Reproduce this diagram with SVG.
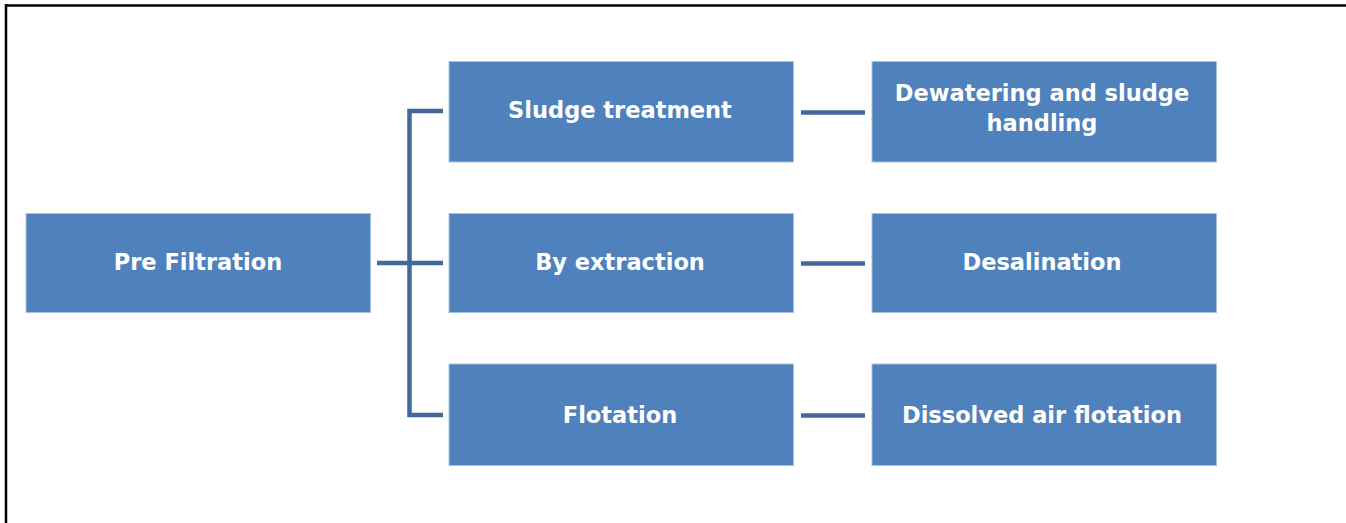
<svg xmlns="http://www.w3.org/2000/svg" width="1346" height="523" viewBox="0 0 1346 523">
<style>
.box{fill:#4F81BD;stroke:#A9C1E0;stroke-width:1}
.lbl{font-family:"DejaVu Sans",sans-serif;font-weight:bold;font-size:22.5px;fill:#FFFFFF;text-anchor:middle}
.con{fill:none;stroke:#41699B;stroke-width:4.5;stroke-linejoin:miter;stroke-linecap:butt}
</style>
<rect x="0" y="0" width="1346" height="523" fill="#FFFFFF"/>
<g id="frame">
<line x1="6" y1="4" x2="6" y2="523" stroke="#000" stroke-width="2.5"/>
<line x1="5" y1="5.5" x2="1346" y2="5.5" stroke="#000" stroke-width="2.5"/>
</g>
<g id="connectors">
<path class="con" d="M443,111 H409.5 V415 H443"/>
<path class="con" d="M377,263 H443"/>
<path class="con" d="M801,112.5 H865"/>
<path class="con" d="M801,263.5 H865"/>
<path class="con" d="M801,415.5 H865"/>
</g>
<g id="pre-filtration">
<rect class="box" x="26" y="213.5" width="344.5" height="99"/>
<text class="lbl" x="198" y="270">Pre Filtration</text>
</g>
<g id="sludge-treatment">
<rect class="box" x="449" y="61.5" width="344.5" height="100.5"/>
<text class="lbl" x="620" y="118">Sludge treatment</text>
</g>
<g id="by-extraction">
<rect class="box" x="449" y="213.5" width="344.5" height="99"/>
<text class="lbl" x="620" y="270">By extraction</text>
</g>
<g id="flotation">
<rect class="box" x="449" y="364" width="344.5" height="101.5"/>
<text class="lbl" x="620" y="422.5">Flotation</text>
</g>
<g id="dewatering">
<rect class="box" x="872" y="61.5" width="344.5" height="100.5"/>
<text class="lbl" x="1042" y="100.5">Dewatering and sludge</text>
<text class="lbl" x="1042" y="131">handling</text>
</g>
<g id="desalination">
<rect class="box" x="872" y="213.5" width="344.5" height="99"/>
<text class="lbl" x="1042" y="270">Desalination</text>
</g>
<g id="dissolved-air-flotation">
<rect class="box" x="872" y="364" width="344.5" height="101.5"/>
<text class="lbl" x="1042" y="422.5">Dissolved air flotation</text>
</g>
</svg>
